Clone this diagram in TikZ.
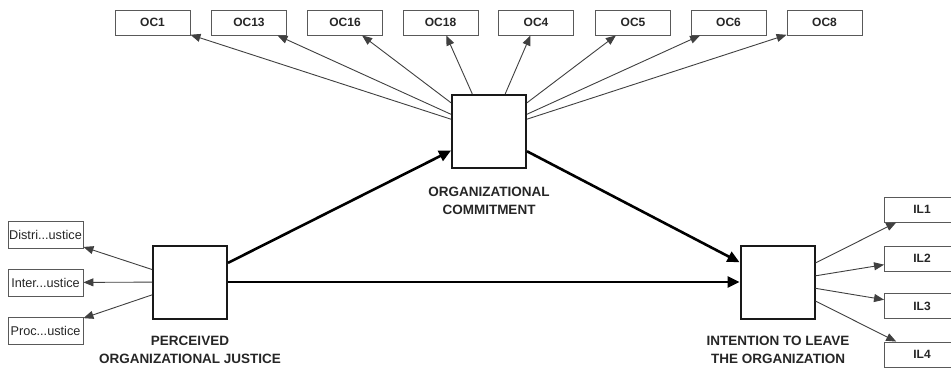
\documentclass[tikz,border=0pt]{standalone}
\usepackage{fontspec}
\setmainfont{Liberation Sans}
\usetikzlibrary{arrows.meta}
\begin{document}
\begin{tikzpicture}[x=1pt,y=-1pt,
 ind/.style={draw=black!65, line width=0.9pt, minimum width=75pt, minimum height=25pt, inner sep=0pt, font=\fontsize{12}{14}\selectfont\bfseries, text=black!85},
 pjind/.style={ind, minimum height=27pt, font=\fontsize{12.7}{14}\selectfont},
 lat/.style={draw=black!90, line width=2pt, minimum width=74pt, minimum height=73pt, inner sep=0pt},
 lbl/.style={align=center, font=\fontsize{13.5}{18}\selectfont\bfseries, text=black!85},
 thinarrow/.style={draw=black!75, line width=0.9pt, -{Triangle[length=10pt,width=8pt]}},
 thickarrow/.style={draw=black, line width=2.6pt, -{Triangle[length=12pt,width=11pt]}}
]
\useasboundingbox (0,0) rectangle (951,370);
\clip (0,0) rectangle (951,370);
\fill[white] (0,0) rectangle (951,370);

% latent variables
\node[lat] (pj) at (190,282) {};
\node[lat] (oc) at (489,131.5) {};
\node[lat] (il) at (777.5,282) {};

\node[lbl] (pjl) at (190,350) {PERCEIVED\\ORGANIZATIONAL JUSTICE};
\node[lbl] (ocl) at (489,200.5) {ORGANIZATIONAL\\COMMITMENT};
\node[lbl] (ill) at (778,350) {INTENTION TO LEAVE\\THE ORGANIZATION};

% OC indicators
\node[ind] (oc1) at (152.5,22.5) {OC1};
\node[ind] (oc13) at (249,22.5) {OC13};
\node[ind] (oc16) at (345,22.5) {OC16};
\node[ind] (oc18) at (440.5,22.5) {OC18};
\node[ind] (oc4) at (536,22.5) {OC4};
\node[ind] (oc5) at (633,22.5) {OC5};
\node[ind] (oc6) at (728.5,22.5) {OC6};
\node[ind] (oc8) at (824.5,22.5) {OC8};

% PJ indicators
\node[pjind] (dj) at (45.5,234.5) {Distri...ustice};
\node[pjind] (ij) at (45.5,282.5) {Inter...ustice};
\node[pjind] (prj) at (45.5,331) {Proc...ustice};

% IL indicators
\node[ind] (il1) at (922,209.5) {IL1};
\node[ind] (il2) at (922,258.5) {IL2};
\node[ind] (il3) at (922,306) {IL3};
\node[ind] (il4) at (922,354.5) {IL4};

% outer model arrows
\foreach \t in {oc1,oc13,oc16,oc18,oc4,oc5,oc6,oc8}
  \draw[thinarrow] (oc) -- (\t);
\foreach \t in {dj,ij,prj}
  \draw[thinarrow] (pj) -- (\t);
\foreach \t in {il1,il2,il3,il4}
  \draw[thinarrow] (il) -- (\t);

% structural model
\draw[thickarrow] (pj) -- (oc);
\draw[thickarrow] (pj) -- (il);
\draw[thickarrow] (oc) -- (il);
\end{tikzpicture}
\end{document}
